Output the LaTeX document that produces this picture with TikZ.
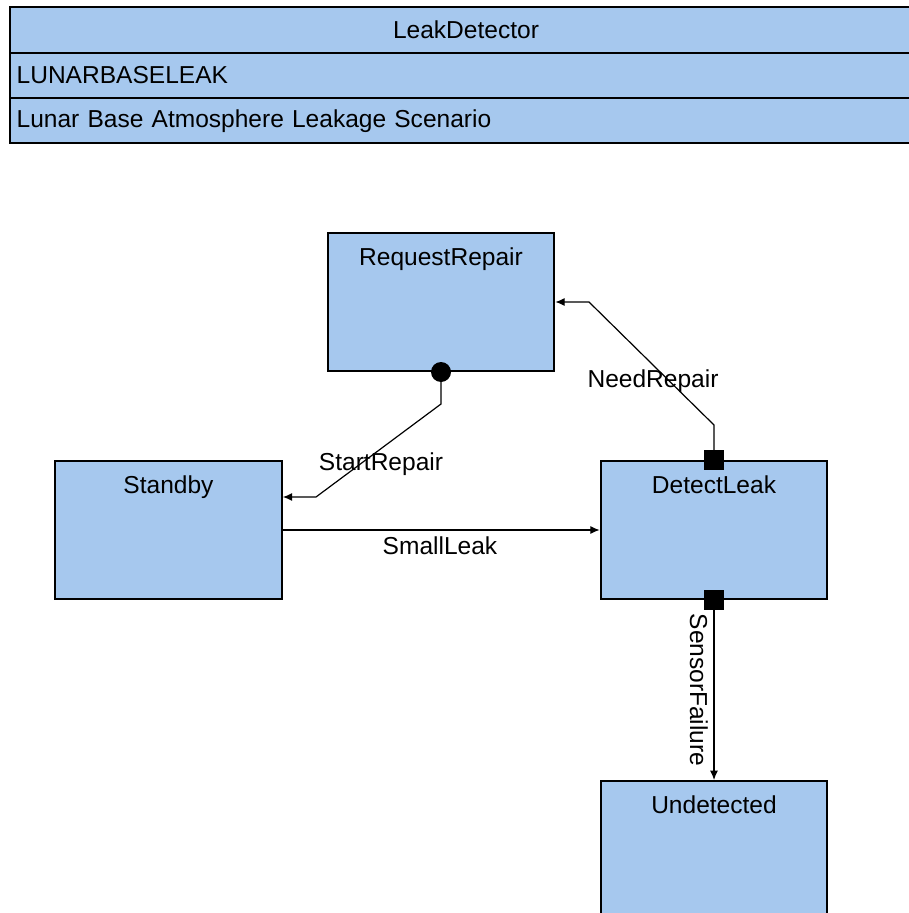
\documentclass[tikz,border=0pt]{standalone}
\usepackage{fontspec}
\setmainfont{Liberation Sans}
\usetikzlibrary{positioning,arrows.meta}
\definecolor{boxblue}{RGB}{166,200,238}
\tikzset{every picture/.style={line width=1pt}}
\tikzset{
  diagfont/.style={font=\fontsize{18.4}{21}\selectfont},
  headrow/.style={draw, line width=1.5pt, fill=boxblue, outer sep=0pt,
    minimum width=684pt, minimum height=34pt, inner xsep=5pt,
    text width=674pt, diagfont},
  state/.style={draw, line width=1.5pt, fill=boxblue,
    minimum width=170pt, minimum height=103.5pt, inner sep=0pt},
  statename/.style={inner sep=0pt, diagfont},
  trans/.style={line width=0.9pt, -{Latex[length=7pt,width=6pt]}},
  translabel/.style={inner sep=0pt, diagfont},
  startdot/.style={circle, fill=black, minimum size=15pt, inner sep=0pt},
  startsquare/.style={rectangle, fill=black, minimum size=14.5pt, inner sep=0pt},
}

\begin{document}
\begin{tikzpicture}[x=0.75pt,y=-0.75pt]
  \useasboundingbox (0,0) rectangle (909,913);
  \clip (0,0) rectangle (909,913);

  % header table
  \node[headrow, align=center] (leakhead) at (466,30) {LeakDetector};
  \node[headrow, align=left, below=0pt of leakhead] (leakcode) {LUNARBASELEAK};
  \node[headrow, align=left, below=0pt of leakcode] (leakdesc) {Lunar Base Atmosphere Leakage Scenario};

  % states
  \node[state] (reqrepair) at (441,302) {};
  \node[state] (standby) at (168.5,530) {};
  \node[state] (detect) at (714,530) {};
  \node[state] (undetected) at (714,850) {};

  \node[statename, below=11.5pt of reqrepair.north] {RequestRepair};
  \node[statename, below=11.5pt of standby.north] {Standby};
  \node[statename, below=11.5pt of detect.north] {DetectLeak};
  \node[statename, below=11.5pt of undetected.north] {Undetected};

  % transitions
  \draw[trans] (reqrepair.south) -- ++(0,32) -- ++(-125,93) coordinate (srbend)
    -- (srbend -| standby.east);
  \draw[trans] (detect.north) -- ++(0,-35) -- ++(-125,-123) -- (reqrepair.east);
  \draw[trans] (standby.east) -- (detect.west);
  \draw[trans] (detect.south) -- (undetected.north);

  \node[translabel] (lblstart) at (381,464) {StartRepair};
  \node[translabel] (lblneed) at (653,381) {NeedRepair};
  \node[translabel] (lblsmall) at (440,546) {SmallLeak};
  \node[translabel, rotate=-90] (lblsensor) at (699,690) {SensorFailure};

  % source markers
  \node[startdot] (srdot) at (reqrepair.south) {};
  \node[startsquare] (nrsquare) at (detect.north) {};
  \node[startsquare] (sfsquare) at (detect.south) {};
\end{tikzpicture}
\end{document}
